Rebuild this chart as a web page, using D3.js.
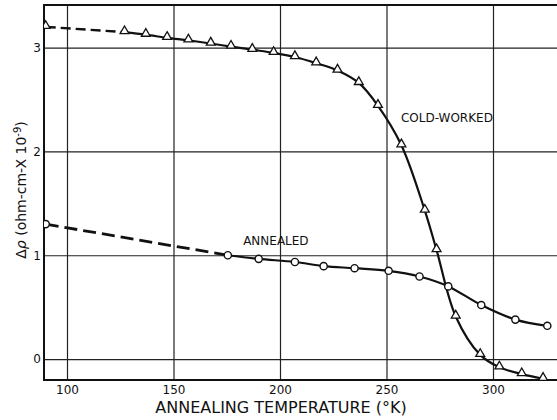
<!DOCTYPE html>
<html>
<head>
<meta charset="utf-8">
<script src="https://cdn.jsdelivr.net/npm/d3@7"></script>
<style>
  body { margin: 0; background: #fff; }
  text { font-family: "DejaVu Sans", sans-serif; fill: #111; }
</style>
</head>
<body>
<div id="chart"></div>
<script>

// Cold-worked sample (triangles)
const coldTemp = [90, 127, 137, 147, 157, 167.5, 177, 187, 197, 207, 217, 227, 237, 246, 257, 268, 273.5, 282.5, 294, 303, 313.5, 323.5];
const coldRho  = [3.20, 3.15, 3.125, 3.095, 3.07, 3.04, 3.01, 2.98, 2.95, 2.91, 2.85, 2.78, 2.66, 2.44, 2.06, 1.43, 1.05, 0.41, 0.04, -0.08, -0.145, -0.19];

// Annealed sample (circles)
const annTemp = [90, 175.5, 190, 207, 220.5, 235, 251, 265.5, 279, 294.5, 310.5, 325.5];
const annRho  = [1.30, 1.00, 0.965, 0.935, 0.895, 0.875, 0.85, 0.795, 0.70, 0.52, 0.38, 0.32];

const xTicks = [100, 150, 200, 250, 300];
const yTicks = [0, 1, 2, 3];

// Set the dimensions
let margin = { top: 5, left: 44, right: 0, bottom: 40 },
    width = 557 - margin.left - margin.right,
    height = 420 - margin.top - margin.bottom;

let svg = d3.select("#chart")
    .append("svg")
    .attr("width", 557)
    .attr("height", 420)
    .append("g")
    .attr("transform", "translate(" + margin.left + "," + margin.top + ")");

let x = d3.scaleLinear().domain([89.2, 330.05]).range([0, width]);
let y = d3.scaleLinear().domain([-0.202, 3.411]).range([height, 0]);

svg.append("clipPath").attr("id", "clip")
    .append("rect").attr("width", width).attr("height", height);

// Grid + tick labels
let xAxis = svg.append("g")
    .attr("transform", "translate(0," + height + ")")
    .call(d3.axisBottom(x).tickValues(xTicks).tickSize(-height).tickPadding(5));
xAxis.select(".domain").remove();
xAxis.selectAll("line").attr("stroke", "#222").attr("stroke-width", 1.2);
xAxis.selectAll("text").attr("font-size", 12).attr("font-family", "DejaVu Sans").attr("fill", "#111");

let yAxis = svg.append("g")
    .call(d3.axisLeft(y).tickValues(yTicks).tickFormat(d3.format("d")).tickSize(-width).tickPadding(3));
yAxis.select(".domain").remove();
yAxis.selectAll("line").attr("stroke", "#222").attr("stroke-width", 1.2);
yAxis.selectAll("text").attr("font-size", 12).attr("font-family", "DejaVu Sans").attr("fill", "#111");

// Frame (left, top, bottom)
svg.append("path")
    .attr("d", `M${width},0H0V${height}H${width}`)
    .attr("fill", "none")
    .attr("stroke", "#111")
    .attr("stroke-width", 2);

function series(temps, vals) {
    return temps.map((t, i) => ({ t: t, v: vals[i] }));
}

let cold = series(coldTemp, coldRho);
let ann = series(annTemp, annRho);

let line = d3.line().x(d => x(d.t)).y(d => y(d.v));
let smooth = d3.line().x(d => x(d.t)).y(d => y(d.v)).curve(d3.curveCatmullRom.alpha(0.5));

let plot = svg.append("g").attr("clip-path", "url(#clip)");

// Dashed (extrapolated) parts
plot.append("path").datum(cold.slice(0, 2))
    .attr("d", line).attr("fill", "none").attr("stroke", "#111")
    .attr("stroke-width", 2.4).attr("stroke-dasharray", "10,5");
plot.append("path").datum(ann.slice(0, 2))
    .attr("d", line).attr("fill", "none").attr("stroke", "#111")
    .attr("stroke-width", 2.8).attr("stroke-dasharray", "13,6");

// Solid parts
plot.append("path").datum(cold.slice(1))
    .attr("d", smooth).attr("fill", "none").attr("stroke", "#111").attr("stroke-width", 2.2);
plot.append("path").datum(ann.slice(1))
    .attr("d", smooth).attr("fill", "none").attr("stroke", "#111").attr("stroke-width", 2.2);

// Markers
plot.selectAll(".tri").data(cold).enter()
    .append("path")
    .attr("class", "tri")
    .attr("d", d3.symbol().type(d3.symbolTriangle).size(34))
    .attr("transform", d => `translate(${x(d.t)},${y(d.v) - 1})`)
    .attr("fill", "#fff").attr("stroke", "#111").attr("stroke-width", 1.3);

plot.selectAll(".dot").data(ann).enter()
    .append("circle")
    .attr("class", "dot")
    .attr("cx", d => x(d.t)).attr("cy", d => y(d.v)).attr("r", 3.6)
    .attr("fill", "#fff").attr("stroke", "#111").attr("stroke-width", 1.4);

// Curve labels
svg.append("text").attr("x", x(256.8)).attr("y", 117)
    .attr("font-size", 12).text("COLD-WORKED");
svg.append("text").attr("x", x(182.7)).attr("y", 240)
    .attr("font-size", 12).text("ANNEALED");

// Axis titles
svg.append("text")
    .attr("x", 281 - margin.left).attr("y", 413 - margin.top)
    .attr("text-anchor", "middle").attr("font-size", 16)
    .text("ANNEALING TEMPERATURE (°K)");

let yt = svg.append("text")
    .attr("transform", `translate(${26 - margin.left},${190 - margin.top}) rotate(-90)`)
    .attr("text-anchor", "middle").attr("font-size", 14);
yt.append("tspan").text("Δ");
yt.append("tspan").attr("font-style", "italic").text("ρ");
yt.append("tspan").text(" (ohm-cm-X 10");
yt.append("tspan").attr("font-size", 10).attr("dy", -5).text("-9");
yt.append("tspan").attr("dy", 5).text(")");

</script>
</body>
</html>
